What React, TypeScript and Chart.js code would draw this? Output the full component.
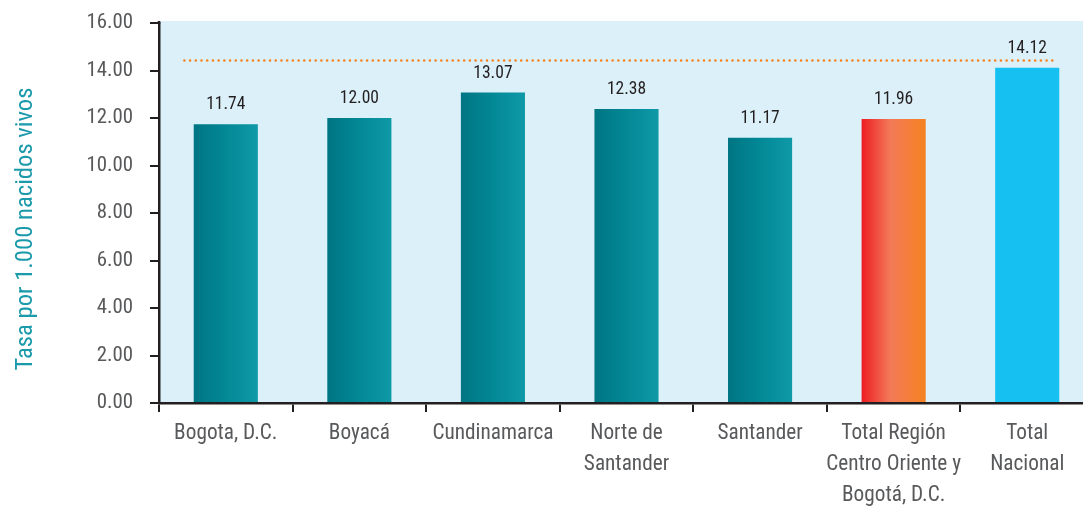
import React, { useEffect, useRef } from "react";
import { Chart, registerables } from "chart.js";

Chart.register(...registerables);

const categories: (string | string[])[] = [
  "Bogota, D.C.",
  "Boyacá",
  "Cundinamarca",
  ["Norte de", "Santander"],
  "Santander",
  ["Total Región", "Centro Oriente y", "Bogotá, D.C."],
  ["Total", "Nacional"],
];
const rates = [11.74, 12.0, 13.07, 12.38, 11.17, 11.96, 14.12];
const barKinds = ["dept", "dept", "dept", "dept", "dept", "region", "national"];
const referenceRate = 14.42;
const yMin = 0;
const yMax = 16;
const yStep = 2;
const axisTitle = "Tasa por 1.000 nacidos vivos";

const AXIS_COLOR = "#231f20";
const TEXT_GRAY = "#58595b";
const BAR_PCT = 0.48;
const SIZE_BOOST = 1.06;

type FontChoice = { family: string; stretch: string };

function pickFont(): FontChoice {
  const c = document.createElement("canvas").getContext("2d")!;
  const test = "Bogota, D.C. 0123456789 Cundinamarca mmwwii";
  c.font = "40px monospace";
  const mono = c.measureText(test).width;
  const named = ["Roboto Condensed", "Open Sans Condensed", "Noto Sans Condensed", "Liberation Sans Narrow"];
  for (const fam of named) {
    c.font = `40px '${fam}', monospace`;
    if (Math.abs(c.measureText(test).width - mono) > 0.5) return { family: `'${fam}'`, stretch: "" };
  }
  const stretchable = ["Roboto", "Open Sans", "Noto Sans"];
  for (const fam of stretchable) {
    c.font = `40px '${fam}', monospace`;
    const normal = c.measureText(test).width;
    if (Math.abs(normal - mono) < 0.5) continue;
    c.font = `condensed 40px '${fam}', monospace`;
    const cond = c.measureText(test).width;
    if (cond < normal * 0.95) return { family: `'${fam}'`, stretch: "condensed" };
  }
  return { family: "'DejaVu Sans Condensed'", stretch: "" };
}

function fitSize(f: FontChoice, samples: [string, number][]): number {
  const c = document.createElement("canvas").getContext("2d")!;
  c.font = `${f.stretch ? f.stretch + " " : ""}100px ${f.family}`;
  let s = 0;
  samples.forEach(([t, w]) => {
    s += (100 * w) / c.measureText(t).width;
  });
  return (s / samples.length) * SIZE_BOOST;
}

function fontStr(f: FontChoice, size: number) {
  return `${f.stretch ? f.stretch + " " : ""}${size}px ${f.family}`;
}

function barFill(ctx: any) {
  const chart = ctx.chart;
  const i = ctx.dataIndex;
  const kind = barKinds[i];
  if (kind === "national") return "#16c0f1";
  const xs = chart.scales?.x;
  if (!chart.chartArea || !xs) return kind === "region" ? "#f37a50" : "#048896";
  const cx = xs.getPixelForValue(i);
  const w = (xs.width / categories.length) * BAR_PCT;
  const g = chart.ctx.createLinearGradient(cx - w / 2, 0, cx + w / 2, 0);
  if (kind === "region") {
    g.addColorStop(0, "#ed1c24");
    g.addColorStop(0.45, "#f37a58");
    g.addColorStop(1, "#f58220");
  } else {
    g.addColorStop(0, "#007583");
    g.addColorStop(0.5, "#038896");
    g.addColorStop(1, "#0f99a7");
  }
  return g;
}

export default function App() {
  const canvasRef = useRef<HTMLCanvasElement | null>(null);

  useEffect(() => {
    if (!canvasRef.current) return;
    const f = pickFont();
    const catSize = fitSize(f, [["Bogota, D.C.", 96], ["Cundinamarca", 116]]);
    const tickSize = fitSize(f, [["12.00", 44]]);
    const valSize = fitSize(f, [["11.74", 37]]);
    const titleSize = fitSize(f, [[axisTitle, 283]]) / SIZE_BOOST;

    const backgroundPlugin = {
      id: "plotBg",
      beforeDraw(chart: any) {
        const { ctx, chartArea } = chart;
        if (!chartArea) return;
        ctx.save();
        ctx.fillStyle = "#dcf0fa";
        ctx.fillRect(chartArea.left, chartArea.top - 2, chart.width - chartArea.left, chartArea.bottom - chartArea.top + 2);
        ctx.restore();
      },
    };

    const refLinePlugin = {
      id: "refLine",
      afterDatasetsDraw(chart: any) {
        const { ctx, scales } = chart;
        const y = scales.y.getPixelForValue(referenceRate);
        const x0 = scales.x.getPixelForValue(-0.31);
        const x1 = scales.x.getPixelForValue(6.22);
        ctx.save();
        ctx.strokeStyle = "#f58220";
        ctx.lineWidth = 2.6;
        ctx.lineCap = "round";
        ctx.setLineDash([0.01, 5.7]);
        ctx.beginPath();
        ctx.moveTo(x0, y);
        ctx.lineTo(x1, y);
        ctx.stroke();
        ctx.restore();
      },
    };

    const valueLabelPlugin = {
      id: "valueLabels",
      afterDatasetsDraw(chart: any) {
        const { ctx } = chart;
        const meta = chart.getDatasetMeta(0);
        ctx.save();
        ctx.font = fontStr(f, valSize);
        ctx.fillStyle = AXIS_COLOR;
        ctx.textAlign = "center";
        ctx.textBaseline = "alphabetic";
        meta.data.forEach((bar: any, i: number) => {
          ctx.fillText(rates[i].toFixed(2), bar.x, bar.y - 15);
        });
        ctx.restore();
      },
    };

    const titlePlugin = {
      id: "yTitle",
      afterDraw(chart: any) {
        const { ctx, chartArea } = chart;
        ctx.save();
        ctx.translate(26, (chartArea.top + chartArea.bottom) / 2 + 16);
        ctx.rotate(-Math.PI / 2);
        ctx.font = fontStr(f, titleSize);
        ctx.fillStyle = "#1b9aab";
        ctx.textAlign = "center";
        ctx.textBaseline = "middle";
        ctx.fillText(axisTitle, 0, 0);
        ctx.restore();
      },
    };

    const yBorderTopPlugin = {
      id: "yBorderTop",
      afterDraw(chart: any) {
        const { ctx, chartArea } = chart;
        ctx.save();
        ctx.strokeStyle = AXIS_COLOR;
        ctx.lineWidth = 2.5;
        ctx.beginPath();
        ctx.moveTo(chartArea.left, chartArea.top - 2);
        ctx.lineTo(chartArea.left, chartArea.top + 1);
        ctx.stroke();
        ctx.restore();
      },
    };

    const chart = new Chart(canvasRef.current, {
      type: "bar",
      data: {
        labels: categories as any,
        datasets: [
          {
            data: rates,
            backgroundColor: barFill as any,
            borderWidth: 0,
            categoryPercentage: 1,
            barPercentage: BAR_PCT,
          },
        ],
      },
      options: {
        responsive: false,
        animation: false,
        layout: { padding: { top: 23, right: 6, left: 0, bottom: 0 } },
        plugins: {
          legend: { display: false },
          tooltip: { enabled: false },
          title: { display: false },
        },
        scales: {
          x: {
            offset: true,
            grid: {
              offset: true,
              drawOnChartArea: false,
              drawTicks: true,
              tickLength: 9,
              color: AXIS_COLOR,
              lineWidth: 2,
            },
            border: { display: true, color: AXIS_COLOR, width: 2.5 },
            ticks: {
              color: TEXT_GRAY,
              padding: 6,
              maxRotation: 0,
              autoSkip: false,
              font: { family: f.family, weight: (f.stretch || undefined) as any, size: catSize, lineHeight: 31 / catSize },
            },
            afterFit(scale: any) {
              scale.height = 112;
              scale.paddingLeft = 0;
              scale.paddingRight = 0;
            },
          },
          y: {
            min: yMin,
            max: yMax,
            grid: {
              drawOnChartArea: false,
              drawTicks: true,
              tickLength: 9,
              color: AXIS_COLOR,
              lineWidth: 2,
            },
            border: { display: true, color: AXIS_COLOR, width: 2.5 },
            ticks: {
              stepSize: yStep,
              color: TEXT_GRAY,
              padding: 17,
              font: { family: f.family, weight: (f.stretch || undefined) as any, size: tickSize },
              callback: (v: any) => Number(v).toFixed(2),
            },
            afterFit(scale: any) {
              scale.width = 159;
              scale.paddingTop = 0;
              scale.paddingBottom = 0;
            },
          },
        },
      },
      plugins: [backgroundPlugin, refLinePlugin, valueLabelPlugin, titlePlugin, yBorderTopPlugin],
    });
    return () => chart.destroy();
  }, []);

  return (
    <div style={{ position: "fixed", left: 0, top: 0, width: 1083, height: 515, overflow: "hidden", background: "#fff" }}>
      <canvas ref={canvasRef} width={1100} height={515} style={{ width: 1100, height: 515, display: "block" }} />
    </div>
  );
}
